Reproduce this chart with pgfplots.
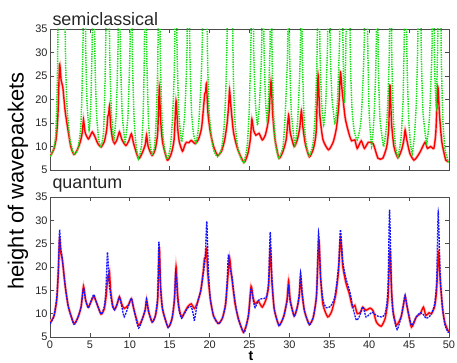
\documentclass[border=0pt]{standalone}
\usepackage{fontspec}
\setmainfont{Liberation Sans}
\usepackage{pgfplots}
\usepackage{pgfplotstable}
\pgfplotsset{compat=1.18}

\definecolor{myred}{RGB}{255,0,0}
\definecolor{mygreen}{RGB}{20,225,20}
\definecolor{myblue}{RGB}{20,20,255}

\pgfplotstableread{
t y
0 7.9
0.5 9.5
0.8 12
1.0 17
1.2 27.4
1.4 24
1.6 22.7
1.9 17.5
2.2 14.1
2.6 10
3.0 8.3
3.4 9.2
3.8 11
4.05 13
4.2 15.7
4.4 13
4.8 11.6
5.1 12.5
5.3 13.1
5.6 12.2
6.0 10.6
6.4 9.9
6.8 11
7.1 13.5
7.25 16.5
7.35 16.8
7.45 18.6
7.6 14.5
7.85 11.5
8.1 10.6
8.4 11.5
8.7 13.1
9.0 11.5
9.5 10.2
9.9 11.3
10.2 12.7
10.5 10.5
11.1 7.4
11.6 8.8
11.95 10.5
12.1 12.4
12.3 10
12.8 8.1
13.2 9.5
13.5 13
13.7 22.6
13.85 16
14.1 11
14.7 7.1
15.2 8.5
15.55 11.5
15.8 19.7
16.0 14
16.2 11
16.6 9.0
16.9 10.3
17.1 10.9
17.4 10.8
17.7 11.3
18.2 10.6
18.6 11.5
19.0 14
19.3 19.5
19.4 21.3
19.5 21.5
19.6 23.4
19.8 17
20.1 13
20.5 10
21.0 8.1
21.5 9
21.9 11.5
22.2 15
22.4 19
22.5 22.0
22.7 18
23.0 13
23.5 9.5
24.3 6.6
24.8 8.5
25.1 11.5
25.3 15.8
25.5 13.5
25.8 12.4
26.2 12.8
26.6 11.4
27.0 12.5
27.4 16
27.7 23.8
27.9 17
28.2 11.5
28.7 7.5
29.2 9
29.6 11.5
29.9 16.7
30.1 13
30.6 10
31.0 11.5
31.3 14
31.5 17.6
31.7 14
32.0 10.5
32.5 7.8
33.0 9.5
33.35 13
33.6 25.2
33.8 17
34.2 11.5
34.9 9.3
35.5 11
35.9 14
36.2 19
36.4 25.8
36.6 22
37.0 16
37.5 12.5
37.8 11.2
38.2 11.4
38.5 9.6
39.0 11.2
39.4 9.6
39.9 10.9
40.5 10.6
41.1 7.5
41.7 7.5
42.2 10
42.45 14
42.6 23.2
42.8 15
43.1 10
43.6 7.6
44.1 9.5
44.35 11.5
44.5 13.5
44.7 11.5
45.1 8.5
45.6 7.1
46.0 7.8
46.4 8.9
47.0 10.9
47.3 9.6
47.7 10.0
48.1 9.6
48.35 13
48.6 22.7
48.8 17
49.1 11
49.6 7.1
50 6.8
}\redtop

\pgfplotstableread{
t y
0 7.9
0.4 9.0
0.7 12
0.85 19
0.95 27
1.0 35
1.45 90
1.9 35
1.98 26
2.15 18
2.5 11.5
3.0 8.3
3.5 9.5
3.85 14
4.0 21
4.08 28
4.15 35
4.3 90
4.45 35
4.52 27
4.65 19
4.9 13.5
5.1 18
5.22 27
5.3 35
5.45 90
5.6 35
5.68 25
5.85 16.5
6.1 11.5
6.4 9.9
6.7 13
6.85 20
6.93 27
7.0 35
7.22 90
7.45 35
7.53 26
7.7 17
8.0 11.5
8.3 17
8.45 26
8.55 35
8.67 90
8.8 35
8.88 26
9.05 17
9.4 11.0
9.75 16
9.95 26
10.05 35
10.17 90
10.3 35
10.38 25
10.55 15.5
10.8 10
11.1 7.4
11.45 10
11.65 15.5
11.78 25
11.85 35
11.97 90
12.1 35
12.18 25
12.35 15
12.55 10.5
12.8 8.1
13.1 10
13.3 15.5
13.47 25
13.55 35
13.67 90
13.8 35
13.88 25
14.05 15
14.3 10
14.7 7.3
15.1 10
15.35 16
15.56 25
15.65 35
15.77 90
15.9 35
15.98 26
16.15 17
16.5 11.0
16.85 16
17.08 25
17.2 35
17.35 90
17.5 35
17.58 26
17.75 17
18.0 12.5
18.3 10.8
18.6 14
18.85 21
19.0 27
19.1 35
19.4 90
19.7 35
19.78 26
19.95 17
20.3 11
20.6 8.8
21.0 7.8
21.5 9.5
21.85 15
22.05 23
22.2 35
22.55 90
22.9 35
22.98 25
23.15 16
23.5 10
23.9 7.6
24.3 6.6
24.7 10
24.95 17
25.1 26
25.2 35
25.35 90
25.5 35
25.58 27
25.75 19
26.0 14.5
26.25 19
26.45 27
26.55 35
26.67 90
26.8 35
26.88 27
27.0 20
27.2 15.6
27.38 20
27.52 28
27.6 35
27.7 90
27.8 35
27.88 25
28.05 15.5
28.3 10
28.7 7.5
29.2 10
29.45 16
29.7 26
29.8 35
29.9 90
30.0 35
30.08 26
30.25 17
30.7 10.3
31.05 16
31.3 26
31.4 35
31.5 90
31.6 35
31.68 25
31.85 15.5
32.1 10.5
32.5 8.0
32.95 10.5
33.2 16
33.4 25
33.5 35
33.65 90
33.8 35
33.88 27
34.05 19
34.3 14.6
34.55 19
34.7 27
34.8 35
34.95 90
35.1 35
35.18 27
35.35 20
35.7 15.0
36.0 19
36.18 27
36.3 35
36.5 90
36.7 35
36.78 25
36.9 19.3
37.0 25
37.1 35
37.35 90
37.6 35
37.68 26
37.85 18
38.1 13.5
38.5 11.4
38.95 15
39.2 23
39.4 35
39.6 90
39.8 35
39.88 26
40.0 17
40.3 10.0
40.6 16
40.8 25
40.9 35
41.0 90
41.1 35
41.18 25
41.35 16
41.8 10.0
42.2 15
42.45 25
42.55 35
42.67 90
42.8 35
42.88 25
43.05 15.5
43.3 10
43.6 7.8
44.0 12
44.25 20
44.32 27
44.4 35
44.55 90
44.7 35
44.78 25
44.95 16
45.15 11
45.4 8.5
45.7 13
45.92 20
46.02 27
46.1 35
46.3 90
46.5 35
46.58 26
46.75 17
47.2 10.7
47.55 16
47.78 26
47.9 35
48.02 90
48.15 35
48.25 24
48.4 18.8
48.5 25
48.6 35
48.8 90
49.0 35
49.08 25
49.25 15
49.5 9.5
49.9 6.8
50 6.7
}\greentop

\pgfplotstableread{
t y
0 8.0
0.5 9.5
0.85 13
1.05 19
1.2 26.1
1.35 23
1.55 21.5
1.9 16
2.3 11.5
3.0 7.9
3.5 9.2
3.9 11.5
4.2 15.9
4.45 13
4.8 11.4
5.2 12.8
5.5 13.7
5.8 12.5
6.4 9.9
6.8 11
7.05 14
7.25 18.2
7.35 17.5
7.45 19
7.6 15
7.85 11.8
8.1 10.9
8.4 12
8.7 13.6
9.0 12
9.3 11.1
9.8 11.8
10.2 13.2
10.5 11
11.1 7.5
11.6 9
11.95 11
12.1 13.0
12.35 10.5
12.8 8.2
13.2 9.5
13.5 13
13.7 24.3
13.85 16
14.1 11
14.8 7.1
15.3 9
15.6 13
15.8 20.1
16.0 14
16.2 11
16.5 9.3
16.9 10.4
17.3 11.6
17.7 12.1
18.1 11.1
18.5 12.5
18.9 15
19.2 19
19.35 21.8
19.5 22.2
19.6 23.9
19.8 18
20.1 13
20.5 9.5
21.1 7.9
21.6 9
22.0 12
22.3 18
22.5 22
22.7 19
22.9 16
23.2 12
23.6 9
24.2 6.1
24.6 7.5
24.9 10
25.2 15.9
25.45 13.5
25.7 12.1
26.1 12.7
26.6 11.4
27.1 13.2
27.4 16
27.6 23.9
27.8 17
28.1 11
28.7 7.5
29.3 9.5
29.7 13
29.9 17.1
30.1 13
30.6 9.5
31.0 11.5
31.25 14
31.4 17.9
31.6 14
31.9 10.5
32.5 7.7
33.0 9.3
33.4 14
33.7 25.7
33.9 18
34.2 12
34.8 9.3
35.3 10.5
35.8 14
36.15 19
36.4 26.1
36.7 20
37.1 16.5
37.5 14.3
37.9 11.4
38.2 11.8
38.5 10
38.9 10.3
39.2 11.4
39.6 10.7
40.1 11.2
40.5 10.6
40.9 8.2
41.5 7.3
42.0 9
42.35 13
42.6 23.2
42.8 15
43.0 10.5
43.4 7.5
44.0 9.3
44.3 12
44.5 13.7
44.75 11.5
45.3 7.1
45.9 9.3
46.4 10
46.8 11.4
47.1 9.6
47.5 10.2
47.8 10
48.2 11.5
48.45 15
48.7 22.9
48.9 17
49.2 11
49.5 8
49.9 6.3
50 6.2
}\redbot

\pgfplotstableread{
t y
0 7.8
0.5 9.5
0.85 13.5
1.05 20
1.2 28
1.35 24
1.5 22.5
1.9 16
2.3 11.5
3.0 7.7
3.5 9.2
3.9 11.5
4.2 15.5
4.45 13
4.8 11.2
5.2 13
5.5 14.1
5.8 12.5
6.4 9.9
6.8 11.5
7.0 15
7.2 23.2
7.4 17
7.6 14
7.85 11.5
8.1 10.8
8.4 12
8.7 13.6
9.0 11.5
9.3 9.3
9.8 11.5
10.2 13.3
10.5 11
11.1 6.9
11.6 9
11.95 11
12.1 13.1
12.35 10.5
12.8 8.2
13.2 9.5
13.5 14
13.65 25.4
13.85 16
14.1 11
14.8 7
15.3 9
15.6 13.5
15.75 18.9
16.0 13
16.2 10.5
16.5 9
16.9 10.2
17.3 11.3
17.7 11.5
18.0 9.5
18.1 8.6
18.5 12.5
18.9 15
19.2 18.5
19.45 22
19.65 29.8
19.85 19
20.1 13
20.5 9.5
21.1 7.8
21.6 9
22.0 12
22.2 17
22.35 22.4
22.6 19
22.8 18
23.0 15
23.3 11.5
23.6 8.8
24.3 5.9
24.6 7.5
24.9 10
25.2 15.5
25.45 13
25.7 11.3
26.1 12.8
26.5 13.2
27.1 13.5
27.4 17
27.6 27.5
27.8 18
28.1 11
28.7 7.4
29.3 9.5
29.7 12.5
29.9 15.7
30.1 12.5
30.6 9.5
31.0 11.5
31.25 14.5
31.4 18.9
31.6 14.5
31.9 10.5
32.5 7.6
33.0 9.3
33.4 14
33.65 27.5
33.9 18
34.2 13
34.6 11.3
35.1 11.5
35.6 13
35.9 16
36.2 21
36.4 28
36.7 21
37.1 17.5
37.6 14.5
38.0 11
38.4 8.6
38.8 9.5
39.2 11.5
39.6 9.3
40.0 9.8
40.4 10.3
40.9 9.6
41.5 9.3
42.0 10
42.35 15
42.55 32.3
42.8 15
43.0 10
43.5 6.6
44.0 9.3
44.3 12
44.5 14
44.75 11.5
45.3 7.5
45.9 9.3
46.4 10.2
46.8 9.8
47.1 9
47.5 9.3
47.8 10
48.2 12
48.45 17
48.65 31.8
48.9 18
49.2 11
49.5 7.5
49.9 6
50 6
}\bluebot

\pgfplotsset{
  myax/.style={
    scale only axis, width=399bp, anchor=south west,
    xmin=0, xmax=50, ymin=5, ymax=35,
    xtick={0,5,...,50}, ytick={5,10,...,35},
    tick align=inside, major tick length=4bp,
    xtick pos=both, ytick pos=both,
    axis line style={black!70, line width=0.9pt},
    tick style={black!70, line width=0.7pt},
    ticklabel style={font=\fontsize{11}{12}\selectfont, text=black!85},
    /pgf/number format/assume math mode=true,
    yticklabel style={xshift=1bp},
  }
}

\begin{document}
\begin{tikzpicture}
\useasboundingbox (0,0) rectangle (457bp,363bp);
\begin{axis}[myax, at={(50bp,193bp)}, height=141bp, xticklabels={}]
\addplot[no markers, smooth, tension=0.35, myred!22, line width=3pt] table {\redtop};
\addplot[no markers, smooth, tension=0.35, myred, line width=1.4pt] table {\redtop};
\addplot[no markers, smooth, tension=0.3, mygreen, line width=1.5pt, dash pattern=on 1.4pt off 1pt] table {\greentop};
\end{axis}
\begin{axis}[myax, at={(50bp,26bp)}, height=140bp]
\addplot[no markers, smooth, tension=0.35, myred!22, line width=3pt] table {\redbot};
\addplot[no markers, smooth, tension=0.35, myred, line width=1.4pt] table {\redbot};
\addplot[no markers, smooth, tension=0.35, myblue, line width=1.3pt, dash pattern=on 2pt off 1pt] table {\bluebot};
\end{axis}
\node[anchor=west, font=\fontsize{18}{20}\selectfont, text=black!85] at (49bp,344bp) {semiclassical};
\node[anchor=west, font=\fontsize{18}{20}\selectfont, text=black!85] at (49bp,178bp) {quantum};
\node[rotate=90, font=\fontsize{22}{24}\selectfont] at (18bp,182bp) {height of wavepackets};
\node[anchor=south, inner sep=1bp, font=\bfseries\fontsize{14}{15}\selectfont] at (251bp,1bp) {t};
\end{tikzpicture}
\end{document}
